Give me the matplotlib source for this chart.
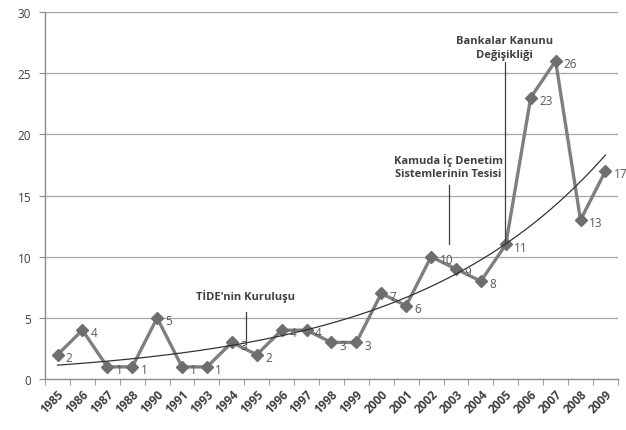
import numpy as np
import matplotlib
matplotlib.use('Agg')
import matplotlib.pyplot as plt

years = ['1985', '1986', '1987', '1988', '1990', '1991', '1993', '1994', '1995',
         '1996', '1997', '1998', '1999', '2000', '2001', '2002', '2003', '2004',
         '2005', '2006', '2007', '2008', '2009']
counts = [2, 4, 1, 1, 5, 1, 1, 3, 2, 4, 4, 3, 3, 7, 6, 10, 9, 8, 11, 23, 26, 13, 17]

# olaylar: (metin, x konumu, metin y, cizgi ust, cizgi alt)
events = [
    ("TİDE'nin Kuruluşu", 7.55, 6.8, 5.5, 2.9),
    ("Kamuda İç Denetim\nSistemlerinin Tesisi", 15.7, 17.4, 15.9, 11.0),
    ("Bankalar Kanunu\nDeğişikliği", 17.95, 27.1, 25.9, 11.0),
]

plt.rcParams['font.family'] = ['Open Sans', 'DejaVu Sans']

fig = plt.figure(figsize=(6.26, 4.31), dpi=100)
ax = fig.add_axes([0.072, 0.118, 0.915, 0.852])

x = np.arange(len(years))
y = np.array(counts)

for v in range(5, 31, 5):
    ax.axhline(v, color='#a6a6a6', lw=0.9, zorder=0)

ax.plot(x, y, color='#7f7f7f', lw=2.4, marker='D', markersize=6,
        markerfacecolor='#6e6e6e', markeredgecolor='#6e6e6e', zorder=3)

# ustel egilim cizgisi (Excel tarzı)
b, a = np.polyfit(x + 1, np.log(y), 1)
xt = np.linspace(0, len(years) - 1, 200)
ax.plot(xt, np.exp(a + b * (xt + 1)), color='#333333', lw=0.9, zorder=4)

for xi, yi in zip(x, y):
    ax.annotate(str(yi), (xi, yi), xytext=(6, -2), textcoords='offset points',
                ha='left', va='center', fontsize=8.5, color='#595959', zorder=5)

for txt, xe, ty, y1, y2 in events:
    ax.plot([xe, xe], [y1, y2], color='#404040', lw=0.9, zorder=4)
    ax.text(xe, ty, txt, ha='center', va='center', fontsize=8,
            fontweight='bold', color='#404040', linespacing=1.3)

ax.set_xlim(-0.5, len(years) - 0.5)
ax.set_ylim(0, 30)
ax.set_yticks(range(0, 31, 5))
ax.set_xticks(x)
ax.set_xticklabels(years, rotation=45, ha='right', rotation_mode='anchor',
                   fontsize=8.5, fontweight='bold', color='#404040')
ax.set_xticks(np.arange(-0.5, len(years)), minor=True)
ax.tick_params(axis='x', which='major', length=0, pad=6)
ax.tick_params(axis='x', which='minor', length=4, color='#8c8c8c')
ax.tick_params(axis='y', length=4, color='#8c8c8c', labelsize=8.5,
               labelcolor='#404040', pad=6)

for s in ['top', 'right']:
    ax.spines[s].set_visible(False)
for s in ['left', 'bottom']:
    ax.spines[s].set_color('#8c8c8c')
    ax.spines[s].set_linewidth(1.0)

plt.savefig('out.png', dpi=100)
